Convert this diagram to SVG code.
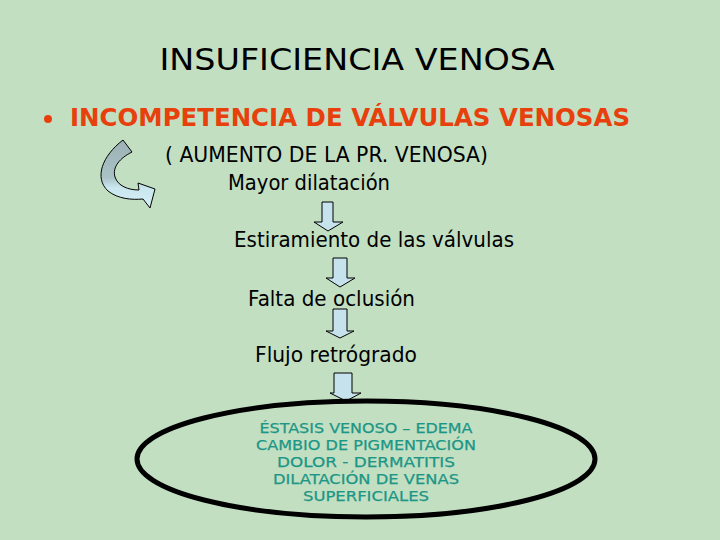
<svg xmlns="http://www.w3.org/2000/svg" width="720" height="540" viewBox="0 0 720 540">
<defs>
<style>
.t{font-family:"DejaVu Sans","Verdana",sans-serif;fill:#000}
.step{font-size:21px}
.ell{font-family:"DejaVu Sans",sans-serif;font-size:14px;fill:#1c9686;stroke:#1c9686;stroke-width:0.25}
.arr{fill:#c6e2ec;stroke:#000;stroke-width:1}
</style>
<linearGradient id="cg" x1="0" y1="0" x2="0" y2="1">
<stop offset="0" stop-color="#9cb2b5"/>
<stop offset="0.55" stop-color="#a9c2c6"/>
<stop offset="0.7" stop-color="#cae6ee"/>
<stop offset="1" stop-color="#d4eef4"/>
</linearGradient>
</defs>
<rect width="720" height="540" fill="#c2dfc2"/>
<g id="title">
<text x="357" y="70" text-anchor="middle" font-family="DejaVu Sans, Verdana, sans-serif" font-size="30" textLength="395" lengthAdjust="spacingAndGlyphs" fill="#000">INSUFICIENCIA VENOSA</text>
</g>
<g id="bullet">
<circle cx="48" cy="119" r="4" fill="#e8400c"/>
<text x="70" y="126" font-family="DejaVu Sans, Verdana, sans-serif" font-weight="bold" font-size="24" textLength="560" lengthAdjust="spacingAndGlyphs" fill="#e8400c">INCOMPETENCIA DE VÁLVULAS VENOSAS</text>
</g>
<g id="curved-arrow">
<path d="M123,140 C102,156 94,178 108,191 C118,199 132,200 143,199 L150,208 L155,189 L138,183 L139,190 C128,190 118,186 115,177 C112,167 120,158 132,152 Z" fill="url(#cg)" stroke="#000" stroke-width="1"/>
</g>
<g id="aumento">
<text class="t step" x="165" y="162" textLength="323" lengthAdjust="spacingAndGlyphs">( AUMENTO DE LA PR. VENOSA)</text>
</g>
<g id="mayor">
<text class="t step" x="228" y="190" textLength="162" lengthAdjust="spacingAndGlyphs">Mayor dilatación</text>
</g>
<g id="estiramiento">
<text class="t step" x="234" y="247" textLength="280" lengthAdjust="spacingAndGlyphs">Estiramiento de las válvulas</text>
</g>
<g id="falta">
<text class="t step" x="248" y="306" textLength="167" lengthAdjust="spacingAndGlyphs">Falta de oclusión</text>
</g>
<g id="flujo">
<text class="t step" x="255" y="362" textLength="162" lengthAdjust="spacingAndGlyphs">Flujo retrógrado</text>
</g>
<g id="connectors">
<path class="arr" d="M322,202 L333,202 L333,222 L343,222 L328,231 L314,222 L322,222 Z"/>
<path class="arr" d="M333,258 L347,258 L347,278 L355,278 L340,287 L326,278 L333,278 Z"/>
<path class="arr" d="M333,309 L347,309 L347,331 L354,331 L340,338 L326,331 L333,331 Z"/>
<path class="arr" d="M334,373 L352,373 L352,393 L361,393 L346,401 L330,393 L334,393 Z"/>
</g>
<g id="ellipse-node">
<ellipse cx="366" cy="459" rx="229" ry="58" fill="#c2dfc2" stroke="#000" stroke-width="5"/>
<text class="ell" x="366" y="433" text-anchor="middle" textLength="213" lengthAdjust="spacingAndGlyphs">ÉSTASIS VENOSO – EDEMA</text>
<text class="ell" x="366" y="450" text-anchor="middle" textLength="220" lengthAdjust="spacingAndGlyphs">CAMBIO DE PIGMENTACIÓN</text>
<text class="ell" x="366" y="467" text-anchor="middle" textLength="178" lengthAdjust="spacingAndGlyphs">DOLOR -  DERMATITIS</text>
<text class="ell" x="366" y="484" text-anchor="middle" textLength="186" lengthAdjust="spacingAndGlyphs">DILATACIÓN DE VENAS</text>
<text class="ell" x="366" y="501" text-anchor="middle" textLength="126" lengthAdjust="spacingAndGlyphs">SUPERFICIALES</text>
</g>
</svg>
